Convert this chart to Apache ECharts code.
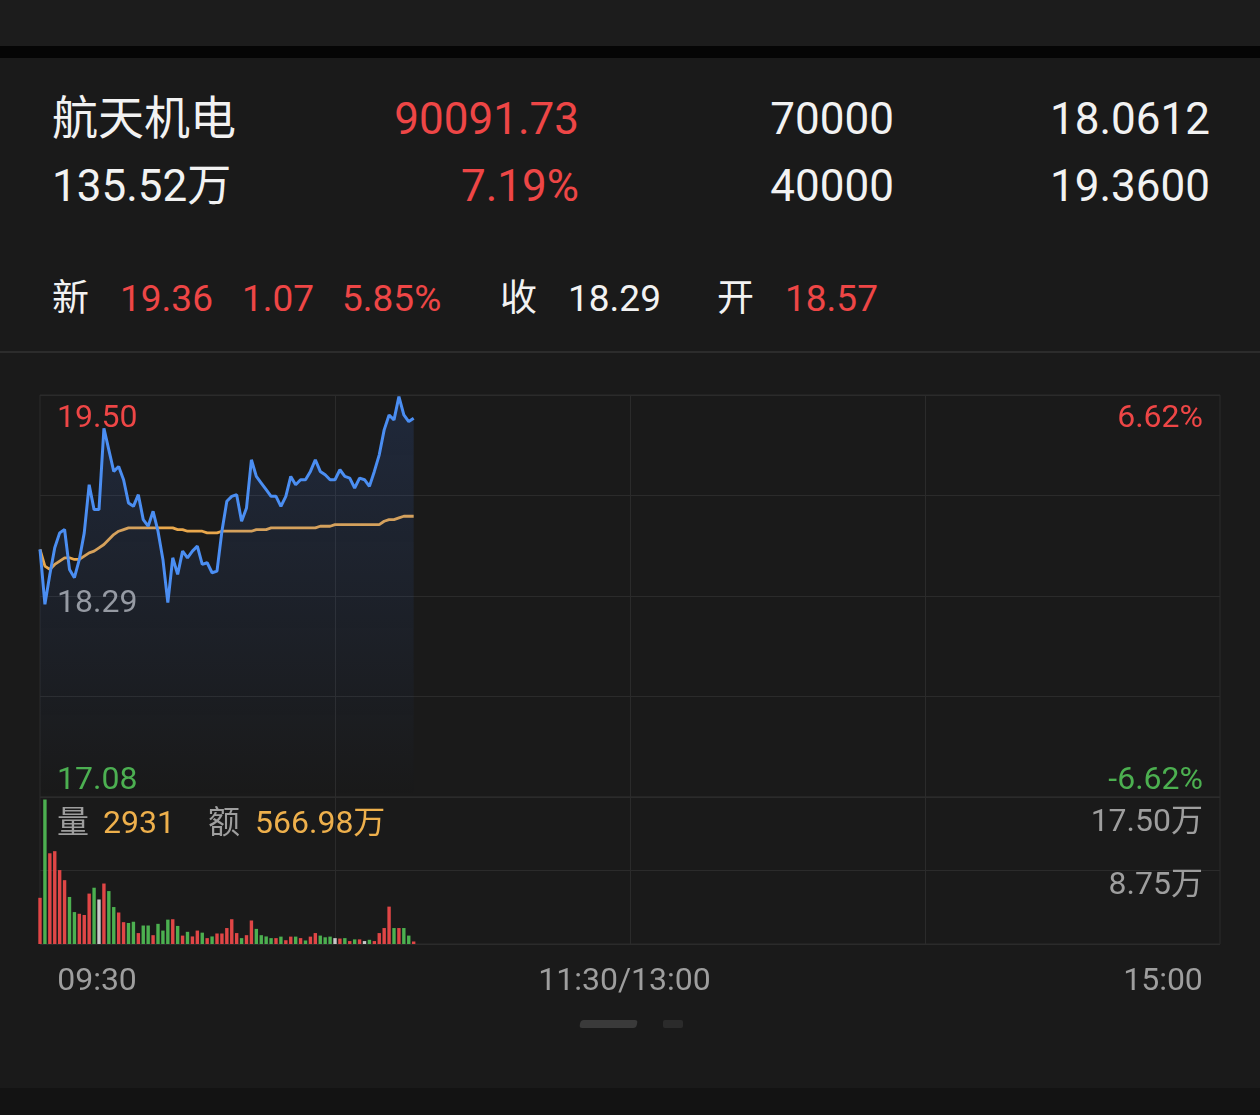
<!DOCTYPE html>
<html><head><meta charset="utf-8">
<script src="https://cdn.jsdelivr.net/npm/echarts@6/dist/echarts.min.js"></script>
<style>
html,body{margin:0;padding:0;background:#1a1a1a;width:1260px;height:1115px;overflow:hidden;font-family:Roboto,"Noto Sans CJK SC",sans-serif;}
#topband{position:absolute;left:0;top:0;width:1260px;height:46px;background:#1c1c1c}
#blackbar{position:absolute;left:0;top:46px;width:1260px;height:12px;background:#050505}
#sep{position:absolute;left:0;top:351px;width:1260px;height:2px;background:#2c2c2c}
#foot{position:absolute;left:0;top:1088px;width:1260px;height:27px;background:#131313}
#dot1{position:absolute;left:580px;top:1020px;width:57px;height:8px;border-radius:3px;background:#3a3a3a;transform:skewX(-12deg)}
#dot2{position:absolute;left:663px;top:1020px;width:20px;height:8px;border-radius:2px;background:#2b2b2b}
.t{position:absolute;white-space:nowrap;line-height:1;}
.w{color:#f2f2f2}.r{color:#ee4646}
#chart{position:absolute;left:0;top:0;width:1260px;height:1115px}
</style></head>
<body>
<div id="topband"></div><div id="blackbar"></div><div id="sep"></div><div id="foot"></div>
<div id="dot1"></div><div id="dot2"></div>
<div id="header"></div>
<div id="chart"></div>
<script>
// ---------- header texts ----------
const stockName = '航天机电';
const headerRow1 = ['90091.73', '70000', '18.0612'];
const headerRow2 = ['135.52万', '7.19%', '40000', '19.3600'];
const quoteLabels = ['新', '收', '开'];
const quoteValues = ['19.36', '1.07', '5.85%', '18.29', '18.57'];

// ---------- chart data ----------
const prevClose = 18.29;
const priceMax = 19.50;
const priceMin = 17.08;
const pctLimit = 6.62;
const volMax = 175000;
const volText = '2931';
const amountText = '566.98万';
const timeTickLabels = { 0: '09:30', 120: '11:30/13:00', 240: '15:00' };

const priceData = [18.57, 18.24, 18.42, 18.58, 18.67, 18.69, 18.45, 18.40, 18.51, 18.67,
  18.96, 18.81, 18.81, 19.30, 19.17, 19.04, 19.07, 18.99, 18.85, 18.83,
  18.90, 18.75, 18.71, 18.80, 18.68, 18.51, 18.25, 18.52, 18.42, 18.56,
  18.52, 18.56, 18.59, 18.48, 18.49, 18.43, 18.44, 18.68, 18.86, 18.89,
  18.90, 18.74, 18.82, 19.11, 19.01, 18.97, 18.93, 18.89, 18.89, 18.83,
  18.89, 19.01, 18.96, 18.99, 18.99, 19.04, 19.11, 19.04, 19.02, 18.99,
  18.99, 19.05, 19.01, 19.00, 18.94, 19.00, 18.99, 18.95, 19.04, 19.14,
  19.29, 19.38, 19.35, 19.49, 19.38, 19.34, 19.36];

const avgData = [18.57, 18.47, 18.45, 18.48, 18.50, 18.52, 18.52, 18.51, 18.51, 18.53,
  18.55, 18.56, 18.58, 18.60, 18.63, 18.66, 18.68, 18.69, 18.70, 18.70,
  18.70, 18.70, 18.70, 18.70, 18.70, 18.70, 18.70, 18.70, 18.69, 18.69,
  18.68, 18.68, 18.68, 18.68, 18.67, 18.67, 18.67, 18.68, 18.68, 18.68,
  18.68, 18.68, 18.68, 18.68, 18.69, 18.69, 18.69, 18.70, 18.70, 18.70,
  18.70, 18.70, 18.70, 18.70, 18.70, 18.70, 18.70, 18.71, 18.71, 18.71,
  18.72, 18.72, 18.72, 18.72, 18.72, 18.72, 18.72, 18.72, 18.72, 18.72,
  18.74, 18.75, 18.75, 18.76, 18.77, 18.77, 18.77];

const volData = [55000, 172000, 108000, 110500, 88000, 76000, 56000, 38000, 36000, 34500,
  60000, 67000, 53000, 72000, 63000, 44000, 37500, 26000, 25000, 26500,
  13000, 22000, 22000, 10500, 24000, 16000, 29000, 29500, 21500, 10000,
  14500, 9000, 16000, 13500, 7000, 9000, 12500, 12500, 19000, 29500,
  13000, 7000, 10500, 28000, 18000, 10500, 9000, 7000, 7000, 8800,
  4500, 8800, 8800, 7000, 4200, 8800, 13000, 10000, 8000, 8800,
  7000, 6500, 7000, 3500, 5500, 5500, 3500, 5000, 3500, 13000,
  19000, 44500, 19000, 19000, 19000, 10000, 3000];

// 1 = up (red), -1 = down (green), 0 = flat (grey)
const volDir = [1, -1, 1, 1, 1, 1, -1, -1, 1, 1,
  1, -1, 0, 1, -1, -1, 1, 1, -1, -1,
  1, -1, -1, 1, -1, -1, -1, 1, -1, 1,
  -1, 1, 1, -1, 1, -1, 1, 1, 1, 1,
  1, -1, 1, 1, -1, -1, -1, -1, 1, -1,
  1, 1, -1, 1, -1, 1, 1, -1, -1, -1,
  0, 1, -1, 1, -1, 1, 0, -1, 1, 1,
  1, 1, -1, 1, -1, -1, 1];

// trading-minute categories 09:30..11:30, 13:01..15:00
const times = [];
function pushRange(h0, m0, h1, m1) {
  let t = h0 * 60 + m0;
  const end = h1 * 60 + m1;
  for (; t <= end; t++) {
    const h = Math.floor(t / 60), m = t % 60;
    times.push((h < 10 ? '0' : '') + h + ':' + (m < 10 ? '0' : '') + m);
  }
}
pushRange(9, 30, 11, 30);
pushRange(13, 1, 15, 0);

// ---------- header DOM ----------
const RED = '#ee4646', GREEN = '#4cb050', GREY = '#9e9e9e', ORANGE = '#eeb04c', WHITE = '#f2f2f2';
const hdr = document.getElementById('header');
function addText(txt, cls, size, css) {
  const d = document.createElement('div');
  d.className = 't ' + cls;
  d.textContent = txt;
  d.style.fontSize = size + 'px';
  Object.assign(d.style, css);
  hdr.appendChild(d);
}
addText(stockName, 'w', 46, { left: '52px', top: '95px' });
addText(headerRow1[0], 'r', 44, { right: '681px', top: '97px' });
addText(headerRow1[1], 'w', 44, { right: '366px', top: '97px' });
addText(headerRow1[2], 'w', 44, { right: '50px', top: '97px' });
addText(headerRow2[0], 'w', 44, { left: '52px', top: '164px' });
addText(headerRow2[1], 'r', 44, { right: '681px', top: '164px' });
addText(headerRow2[2], 'w', 44, { right: '366px', top: '164px' });
addText(headerRow2[3], 'w', 44, { right: '50px', top: '164px' });
addText(quoteLabels[0], 'w', 37, { left: '52px', top: '280px' });
addText(quoteValues[0], 'r', 37, { left: '120px', top: '280px' });
addText(quoteValues[1], 'r', 37, { left: '242px', top: '280px' });
addText(quoteValues[2], 'r', 37, { left: '342px', top: '280px' });
addText(quoteLabels[1], 'w', 37, { left: '500px', top: '280px' });
addText(quoteValues[3], 'w', 37, { left: '568px', top: '280px' });
addText(quoteLabels[2], 'w', 37, { left: '717px', top: '280px' });
addText(quoteValues[4], 'r', 37, { left: '785px', top: '280px' });

// ---------- chart ----------
const FONT = 'Roboto, "Noto Sans CJK SC", sans-serif';
const GRIDLINE = '#2b2b2b';
const chart = echarts.init(document.getElementById('chart'), null, { renderer: 'canvas' });
const lbl = (color, pad) => ({ color: color, fontSize: 32, fontFamily: FONT, padding: pad });

const option = {
  backgroundColor: 'transparent',
  animation: false,
  textStyle: { fontFamily: FONT },
  grid: [
    { left: 40, right: 40, top: 395, height: 402, show: true, borderColor: GRIDLINE, borderWidth: 1 },
    { left: 40, right: 40, top: 797, height: 147, show: true, borderColor: GRIDLINE, borderWidth: 1 }
  ],
  xAxis: [
    {
      type: 'category', gridIndex: 0, data: times, boundaryGap: false,
      axisLine: { show: false }, axisTick: { show: false }, axisLabel: { show: false },
      splitLine: { show: true, interval: (i) => i % 60 === 0 && i > 0 && i < 240, lineStyle: { color: GRIDLINE, width: 1 } }
    },
    {
      type: 'category', gridIndex: 1, data: times, boundaryGap: false,
      axisLine: { show: false }, axisTick: { show: false },
      splitLine: { show: true, interval: (i) => i % 60 === 0 && i > 0 && i < 240, lineStyle: { color: GRIDLINE, width: 1 } },
      axisLabel: {
        show: true, margin: 22,
        interval: (i) => timeTickLabels[i] !== undefined,
        formatter: (v, i) => {
          if (i === 0) return '{l|' + timeTickLabels[0] + '}';
          if (i === 120) return '{m|' + timeTickLabels[120] + '}';
          if (i === 240) return '{r|' + timeTickLabels[240] + '}';
          return '';
        },
        rich: {
          l: lbl(GREY, [0, 0, 0, 114]),
          m: lbl(GREY, [0, 11, 0, 0]),
          r: lbl(GREY, [0, 114, 0, 0])
        }
      }
    }
  ],
  yAxis: [
    {
      type: 'value', gridIndex: 0, position: 'left', min: priceMin, max: priceMax,
      splitLine: { show: false }, axisLine: { show: false }, axisTick: { show: false },
      axisLabel: {
        inside: true, margin: 17, customValues: [priceMin, prevClose, priceMax],
        formatter: (v) => {
          const s = v.toFixed(2);
          if (Math.abs(v - priceMax) < 1e-6) return '{up|' + s + '}';
          if (Math.abs(v - priceMin) < 1e-6) return '{dn|' + s + '}';
          return '{mid|' + s + '}';
        },
        rich: {
          up: lbl(RED, [48, 0, 0, 0]),
          mid: lbl(GREY, [16, 0, 0, 0]),
          dn: lbl(GREEN, [0, 0, 32, 0])
        }
      }
    },
    {
      type: 'value', gridIndex: 0, position: 'right', min: -pctLimit, max: pctLimit, interval: pctLimit / 2,
      splitLine: { show: true, lineStyle: { color: GRIDLINE, width: 1 } }, axisLine: { show: false }, axisTick: { show: false },
      axisLabel: {
        inside: true, margin: 17,
        formatter: (v) => {
          if (v > pctLimit - 0.01) return '{up|' + pctLimit.toFixed(2) + '%}';
          if (v < -pctLimit + 0.01) return '{dn|-' + pctLimit.toFixed(2) + '%}';
          return '';
        },
        rich: {
          up: lbl(RED, [48, 0, 0, 0]),
          dn: lbl(GREEN, [0, 0, 32, 0])
        }
      }
    },
    {
      type: 'value', gridIndex: 1, position: 'right', min: 0, max: volMax, interval: volMax / 2,
      splitLine: { show: true, lineStyle: { color: GRIDLINE, width: 1 } }, axisLine: { show: false }, axisTick: { show: false },
      axisLabel: {
        inside: true, margin: 17,
        formatter: (v) => {
          if (v <= 0) return '';
          const s = (v / 10000).toFixed(2) + '万';
          return v >= volMax ? '{a|' + s + '}' : '{b|' + s + '}';
        },
        rich: {
          a: lbl(GREY, [52, 0, 0, 0]),
          b: lbl(GREY, [31, 0, 0, 0])
        }
      }
    }
  ],
  graphic: [
    { type: 'text', left: 57, top: 809, style: { text: '量', fill: GREY, font: '32px ' + FONT } },
    { type: 'text', left: 103, top: 809, style: { text: volText, fill: ORANGE, font: '32px ' + FONT } },
    { type: 'text', left: 208, top: 809, style: { text: '额', fill: GREY, font: '32px ' + FONT } },
    { type: 'text', left: 255, top: 809, style: { text: amountText, fill: ORANGE, font: '32px ' + FONT } }
  ],
  series: [
    {
      name: 'price', type: 'line', xAxisIndex: 0, yAxisIndex: 0, data: priceData,
      showSymbol: false, symbol: 'none',
      lineStyle: { color: '#4b8ef2', width: 3 },
      areaStyle: {
        color: new echarts.graphic.LinearGradient(0, 0, 0, 1, [
          { offset: 0, color: 'rgba(60,110,210,0.26)' },
          { offset: 0.85, color: 'rgba(60,110,210,0.04)' },
          { offset: 1, color: 'rgba(60,110,210,0.0)' }
        ])
      },
      z: 3
    },
    {
      name: 'avg', type: 'line', xAxisIndex: 0, yAxisIndex: 0, data: avgData,
      showSymbol: false, symbol: 'none',
      lineStyle: { color: '#eaa84c', width: 2.8 }, z: 2
    },
    {
      name: 'vol', type: 'bar', xAxisIndex: 1, yAxisIndex: 2, barWidth: 3.4,
      data: volData.map((v, i) => ({
        value: v,
        itemStyle: { color: volDir[i] > 0 ? '#e04646' : (volDir[i] < 0 ? '#4cb050' : '#c8c8c8') }
      }))
    }
  ]
};
chart.setOption(option);
</script>
</body></html>
